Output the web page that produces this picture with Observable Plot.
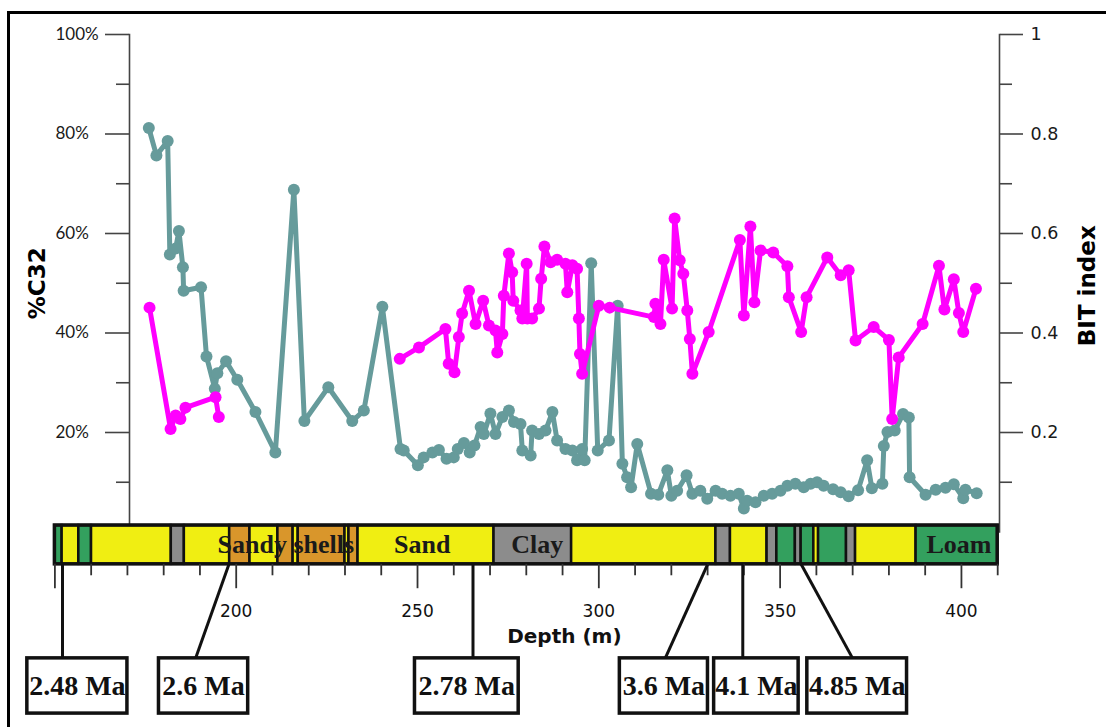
<!DOCTYPE html>
<html>
<head>
<meta charset="utf-8">
<script src="https://cdn.jsdelivr.net/npm/d3@7"></script>
<script src="https://cdn.jsdelivr.net/npm/@observablehq/plot@0.6"></script>
<style>
  body { margin: 0; background: #fff; }
  #wrap { position: relative; width: 1106px; height: 727px; overflow: hidden; background: #fff; }
  #chart { position: absolute; left: 0; top: 0; }
  #border { position: absolute; left: 7px; top: 11px; width: 1300px; height: 900px; border: 3px solid #000; box-sizing: border-box; pointer-events: none; }
</style>
</head>
<body>
<div id="wrap"><div id="chart"></div><div id="border"></div></div>
<script>
// ---- %C32 series (depth m, percent) ----
const c32Depth = [175.9,178.0,181.1,181.7,183.3,184.2,185.3,185.5,190.3,191.8,194.1,194.8,197.2,200.3,205.3,210.8,215.9,218.8,225.4,232.0,235.2,240.3,245.3,246.2,250.1,251.7,254.1,255.9,258.0,260.0,261.1,262.8,264.4,265.7,267.4,268.3,270.1,271.5,273.4,275.2,276.6,278.4,278.9,281.2,281.6,283.5,285.3,287.2,288.5,290.8,292.7,294.0,295.4,296.1,297.9,299.7,302.8,305.2,306.5,307.8,308.9,310.6,314.4,316.4,318.9,320.0,321.6,324.2,325.8,328.0,329.9,332.2,334.0,336.3,338.6,340.0,340.9,343.2,345.5,347.8,350.1,352.0,354.2,356.5,358.4,360.2,362.0,364.6,366.7,368.9,371.5,374.0,375.3,378.2,378.6,379.6,381.6,383.9,385.5,385.7,390.1,392.9,395.6,397.9,400.5,401.1,404.2];
const c32Value = [81.2,75.7,78.6,55.8,57.0,60.5,53.2,48.5,49.2,35.3,28.8,31.9,34.3,30.6,24.1,16.0,68.8,22.3,29.1,22.3,24.4,45.3,16.7,16.4,13.4,15.0,16.0,16.5,14.7,15.0,16.7,17.9,16.0,17.4,21.1,19.7,23.8,19.7,23.1,24.4,22.1,21.7,16.4,15.4,20.4,19.7,20.4,24.1,18.4,16.7,16.4,14.4,16.7,14.4,54.0,16.4,18.4,45.5,13.7,11.0,9.0,17.7,7.7,7.5,12.4,7.3,8.3,11.4,7.7,8.3,6.7,8.3,7.7,7.3,7.7,4.7,6.3,6.0,7.3,7.7,8.3,9.3,9.7,9.0,9.7,10.0,9.3,8.6,8.0,7.2,8.4,14.4,8.8,9.7,17.3,20.1,20.4,23.7,23.0,11.0,7.5,8.5,8.9,9.6,6.8,8.5,7.8];

// ---- BIT index series (depth m, index 0-1), two sampled intervals ----
const bitDepth = [176.1,181.9,183.3,184.6,186.0,194.3,195.2,
  245.1,250.4,257.7,258.6,260.2,261.4,262.3,264.2,266.0,268.1,269.7,271.5,272.0,273.4,273.8,275.2,276.1,276.4,278.4,278.9,280.1,280.3,281.6,283.5,284.1,285.0,286.7,288.5,290.8,291.3,292.7,294.0,294.5,294.8,295.4,300.0,303.0,315.2,315.6,317.0,317.9,320.2,320.9,322.3,323.3,324.4,325.1,325.8,330.3,338.9,340.0,341.8,342.9,344.6,348.1,352.0,352.4,355.8,357.3,363.0,366.7,368.9,370.8,375.8,380.0,380.9,382.7,389.3,393.8,395.3,397.9,399.3,400.5,404.0];
const bitValue = [0.451,0.207,0.234,0.227,0.250,0.271,0.231,
  0.348,0.371,0.408,0.338,0.321,0.392,0.439,0.485,0.418,0.465,0.415,0.405,0.361,0.398,0.475,0.560,0.522,0.465,0.445,0.429,0.539,0.429,0.429,0.449,0.509,0.574,0.542,0.547,0.539,0.482,0.536,0.529,0.429,0.358,0.318,0.455,0.451,0.432,0.459,0.418,0.547,0.449,0.630,0.546,0.519,0.445,0.388,0.318,0.402,0.587,0.435,0.614,0.462,0.566,0.562,0.534,0.472,0.402,0.472,0.552,0.516,0.526,0.385,0.412,0.386,0.227,0.351,0.418,0.535,0.447,0.508,0.440,0.402,0.489];
const bitSegment = bitDepth.map(d => d < 220 ? "upper" : "lower");

// ---- lithology column (depth intervals) ----
const lithFrom = [150.0,152.0,156.6,160.1,182.1,185.7,198.2,203.8,211.5,215.7,217.1,230.0,231.1,233.6,271.1,292.5,332.3,336.3,346.4,349.1,354.2,355.8,359.3,360.6,368.3,370.8,387.5];
const lithTo   = [152.0,156.6,160.1,182.1,185.7,198.2,203.8,211.5,215.7,217.1,230.0,231.1,233.6,271.1,292.5,332.3,336.3,346.4,349.1,354.2,355.8,359.3,360.6,368.3,370.8,387.5,410.0];
const lithType = ["loam","sand","loam","sand","clay","sand","shells","sand","shells","sand","shells","sand","shells","sand","clay","sand","clay","sand","clay","loam","clay","loam","sand","loam","clay","sand","loam"];
const lithLabel = ["Sandy shells","Sand","Clay","Loam"];
const lithLabelDepth = [213.7,251.3,283.0,399.3];

// ---- age tie points ----
const ageLabel = ["2.48 Ma","2.6 Ma","2.78 Ma","3.6 Ma","4.1 Ma","4.85 Ma"];
const ageDepth = [152.1,198.0,265.3,330.0,339.7,355.8];

// ---- axis ticks ----
const leftTicks = [20,40,60,80,100];
const minorTicks = [10,30,50,70,90];
const depthTicks = d3.range(150, 411, 10);
const depthLabels = [200,250,300,350,400];

// ---- layout (not data): label box placement, in axis units ----
const boxFrom = [142.4,178.7,249.3,305.8,331.8,357.5];
const boxTo   = [170.0,203.3,277.9,330.1,355.1,385.0];
const lineFoot = [152.1,188.8,265.3,318.3,339.7,370.0];
const BAR_TOP = 1.3, BAR_BOTTOM = -6.5, BAR_MID = -2.6;
const MINOR_END = -8.8, MAJOR_END = -11.4, TICKLABEL_Y = -16.0, XLABEL_Y = -21.0;
const BOX_TOP = -25.4, BOX_BOTTOM = -36.5, BOX_MID = -30.9;

const lithColors = {sand: "#f0ee12", clay: "#8c8c8c", shells: "#d9962b", loam: "#33a05e"};
const TEAL = "#669b9b", PINK = "#ff00ff";

const c32 = c32Depth.map((d, i) => ({depth: d, pct: c32Value[i]}));
const bit = bitDepth.map((d, i) => ({depth: d, pct: bitValue[i] * 100, seg: bitSegment[i]}));
const lith = lithFrom.map((d, i) => ({from: d, to: lithTo[i], color: lithColors[lithType[i]]}));
const lithText = lithLabel.map((t, i) => ({label: t, depth: lithLabelDepth[i]}));
const ages = ageLabel.map((t, i) => ({label: t, depth: ageDepth[i], foot: lineFoot[i], from: boxFrom[i], to: boxTo[i]}));

const axisStroke = "#444";
const chart = Plot.plot({
  width: 1106, height: 727,
  marginTop: 34, marginBottom: 195.5, marginLeft: 129, marginRight: 107,
  x: {domain: [150, 410], range: [54.4, 997.2], axis: null},
  y: {domain: [0, 100], range: [531.5, 34], label: null},
  color: {type: "identity"},
  style: {background: "white", overflow: "visible", color: "#1a1a1a"},
  marks: [
    Plot.frame({anchor: "left", stroke: axisStroke, strokeWidth: 1.6}),
    Plot.frame({anchor: "right", stroke: axisStroke, strokeWidth: 1.6}),
    Plot.axisY({anchor: "left", ticks: leftTicks, tickSize: 24, tickPadding: 50, textAnchor: "start",
      tickFormat: d => d + "%", fontFamily: "Lato", fontSize: 17, stroke: axisStroke, strokeWidth: 1.6, label: null}),
    Plot.axisY({anchor: "left", ticks: minorTicks, tickSize: 13, tickFormat: () => "", stroke: axisStroke, strokeWidth: 1.6, label: null}),
    Plot.axisY({anchor: "right", ticks: leftTicks, tickSize: 23, tickPadding: 8,
      tickFormat: d => String(d / 100), fontFamily: "DejaVu Sans", fontSize: 17.5, stroke: axisStroke, strokeWidth: 1.6, label: null}),
    Plot.axisY({anchor: "right", ticks: minorTicks, tickSize: 12, tickFormat: () => "", stroke: axisStroke, strokeWidth: 1.6, label: null}),
    Plot.text(["%C32"], {x: 145.3, y: 50, text: d => d, rotate: -90, fontFamily: "DejaVu Sans", fontWeight: "bold", fontSize: 23, fill: "#000"}),
    Plot.text(["BIT index"], {x: 434.8, y: 49.5, text: d => d, rotate: -90, fontFamily: "DejaVu Sans", fontWeight: "bold", fontSize: 23, fill: "#000"}),

    Plot.line(c32, {x: "depth", y: "pct", stroke: TEAL, strokeWidth: 5, strokeLinejoin: "round"}),
    Plot.dot(c32, {x: "depth", y: "pct", r: 6, fill: TEAL}),
    Plot.line(bit, {x: "depth", y: "pct", z: "seg", stroke: PINK, strokeWidth: 5, strokeLinejoin: "round"}),
    Plot.dot(bit, {x: "depth", y: "pct", r: 6, fill: PINK}),

    // lithology column
    Plot.rect(lith, {x1: "from", x2: "to", y1: BAR_TOP, y2: BAR_BOTTOM, fill: "color", stroke: "#111", strokeWidth: 2.5}),
    Plot.rect([0], {x1: 150, x2: 410, y1: BAR_TOP, y2: BAR_BOTTOM, fill: "none", stroke: "#111", strokeWidth: 3.5}),
    Plot.text(lithText, {x: "depth", y: BAR_MID, text: "label", fontFamily: "Liberation Serif", fontWeight: "bold", fontSize: 26, fill: "#1a1a1a"}),

    // depth axis
    Plot.ruleX(depthTicks, {x: d => d, y1: BAR_BOTTOM, y2: d => d % 50 === 0 ? MAJOR_END : MINOR_END, stroke: "#333", strokeWidth: 1.8}),
    Plot.text(depthLabels, {x: d => d, y: TICKLABEL_Y, text: d => String(d), fontFamily: "DejaVu Sans", fontSize: 17, fill: "#111"}),
    Plot.text(["Depth (m)"], {x: 290.5, y: XLABEL_Y, text: d => d, fontFamily: "DejaVu Sans", fontWeight: "bold", fontSize: 20, fill: "#111"}),

    // age tie points
    Plot.link(ages, {x1: "depth", y1: BAR_BOTTOM, x2: "foot", y2: BOX_TOP, stroke: "#111", strokeWidth: 3}),
    Plot.rect(ages, {x1: "from", x2: "to", y1: BOX_TOP, y2: BOX_BOTTOM, fill: "white", stroke: "#111", strokeWidth: 3.5}),
    Plot.text(ages, {x: d => (d.from + d.to) / 2, y: BOX_MID, text: "label", fontFamily: "Liberation Serif", fontWeight: "bold", fontSize: 28, fill: "#111"})
  ]
});
document.getElementById("chart").appendChild(chart);
</script>
</body>
</html>
